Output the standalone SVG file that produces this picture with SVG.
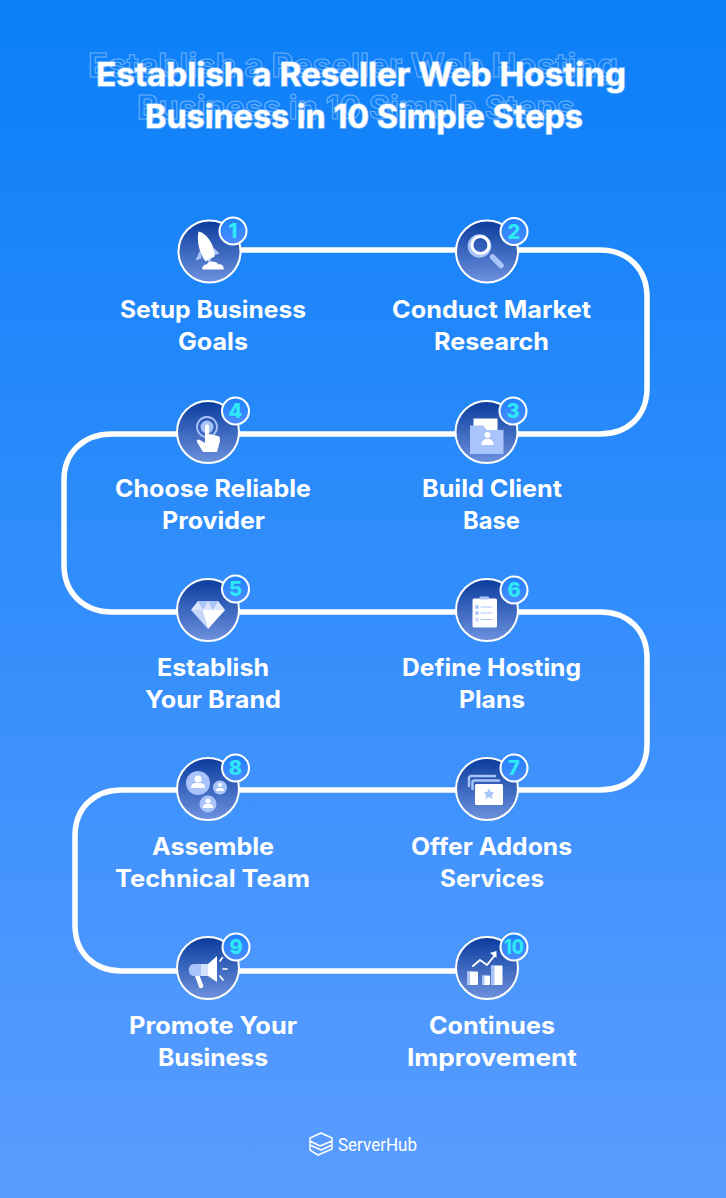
<svg xmlns="http://www.w3.org/2000/svg" width="726" height="1198" viewBox="0 0 726 1198">
<defs>
<linearGradient id="bg" x1="0" y1="0" x2="0" y2="1"><stop offset="0" stop-color="#0b7ff8"/><stop offset="1" stop-color="#5a9cff"/></linearGradient>
<linearGradient id="disc" x1="0" y1="0" x2="0" y2="1"><stop offset="0" stop-color="#0a3c9e"/><stop offset="1" stop-color="#6d92de"/></linearGradient>
<linearGradient id="chip" x1="0" y1="0" x2="0" y2="1"><stop offset="0" stop-color="#1f80fb"/><stop offset="1" stop-color="#4b8dff"/></linearGradient>
</defs>
<style>
text{font-family:"Inter","Liberation Sans",sans-serif}
.title{font-size:32px;font-weight:700;text-anchor:middle;fill:#fff;stroke:#fff;stroke-opacity:.45;stroke-width:1.6px;paint-order:stroke}
.ghost{font-size:32px;font-weight:700;text-anchor:middle;fill:none;stroke:#fff;stroke-opacity:.4;stroke-width:1px}
.label{font-size:24px;font-weight:700;text-anchor:middle;fill:#fff}
.disc{fill:url(#disc);stroke:#fff;stroke-width:2}
.chip{fill:url(#chip);stroke:#fff;stroke-width:2}
.num{font-size:20px;font-weight:800;text-anchor:middle;fill:#2ee8f6}
.w{fill:#fff}
.l{fill:#a9c3fb}
.wl{fill:none;stroke:#fff;stroke-linecap:round;stroke-linejoin:round}
.ll{fill:none;stroke:#a9c3fb;stroke-linecap:round;stroke-linejoin:round}
</style>
<rect width="726" height="1198" fill="url(#bg)"/>

<g id="title">
<text class="ghost" x="353" y="77" textLength="530" lengthAdjust="spacingAndGlyphs">Establish a Reseller Web Hosting</text>
<text class="ghost" x="356" y="119" textLength="438" lengthAdjust="spacingAndGlyphs">Business in 10 Simple Steps</text>
<text class="title" x="361" y="86" textLength="530" lengthAdjust="spacingAndGlyphs">Establish a Reseller Web Hosting</text>
<text class="title" x="364" y="128" textLength="438" lengthAdjust="spacingAndGlyphs">Business in 10 Simple Steps</text>
</g>

<g id="connectors">
<path d="M209 250H600C628 250 647 269 647 297V388C647 416 628 434 600 434H112C84 434 64 452 64 480V565C64 593 84 612 112 612H600C628 612 647 630 647 658V744C647 772 628 790 600 790H122C94 790 75 808 75 836V925C75 953 94 971 122 971H487" fill="none" stroke="#fff" stroke-width="5.500"/>
</g>

<g id="step-1" transform="translate(209.500 251.500)">
<circle class="disc" r="31"/><path class="l" d="M-9-2-14 9-8 7ZM4-4 10 2 4 4ZM-2 8 0 14 3 14 1 7Z"/>
<path class="w" d="M-11-20C-3-18 5-8 5 5L-4 10C-10 2-13-10-11-20Z"/>
<path class="w" d="M-7 18C-8 15-5 13-3 13C-1 9 7 9 9 13C12 12 15 15 14 18Z"/>
<circle class="chip" cx="23.500" cy="-20.500" r="13.500"/><text class="num" x="23.500" y="-13.500">1</text>
</g>
<text class="label" x="213" y="318" textLength="186" lengthAdjust="spacingAndGlyphs">Setup Business</text>
<text class="label" x="213" y="350" textLength="70" lengthAdjust="spacingAndGlyphs">Goals</text>

<g id="step-2" transform="translate(487 251.500)">
<circle class="disc" r="31"/><path class="ll" d="M5.500 5.500 14 14" stroke-width="5.500"/>
<circle cx="-7.500" cy="-5.500" r="10" fill="none" stroke="#a9c3fb" stroke-width="3.500"/>
<circle cx="-6.500" cy="-6.500" r="8.500" fill="none" stroke="#fff" stroke-width="3"/>
<circle class="chip" cx="27" cy="-20" r="13.500"/><text class="num" x="27" y="-13">2</text>
</g>
<text class="label" x="491.500" y="318" textLength="199" lengthAdjust="spacingAndGlyphs">Conduct Market</text>
<text class="label" x="491.500" y="350" textLength="115" lengthAdjust="spacingAndGlyphs">Research</text>

<g id="step-3" transform="translate(486.500 432)">
<circle class="disc" r="31"/><rect class="w" x="-13" y="-13.500" width="24" height="16"/>
<path class="l" d="M-16.500-6.500H-3L0-2H17V22H-16.500Z"/>
<circle class="w" cx="1" cy="3" r="3"/><path class="w" d="M-5 13C-5 8-2 7 1 7C4 7 7 8 7 13Z"/>
<circle class="chip" cx="26.500" cy="-21" r="13.500"/><text class="num" x="26.500" y="-14">3</text>
</g>
<text class="label" x="492" y="497" textLength="140" lengthAdjust="spacingAndGlyphs">Build Client</text>
<text class="label" x="491.500" y="529" textLength="57" lengthAdjust="spacingAndGlyphs">Base</text>

<g id="step-4" transform="translate(208 432)">
<circle class="disc" r="31"/><circle cx="-1" cy="-5" r="10" fill="none" stroke="#a9c3fb" stroke-width="1.800"/>
<circle class="l" cx="-1" cy="-5" r="6.500"/>
<path class="w" d="M-3-6C-3-8 1-8 1-6V2L10 4C12 5 12 6 12 9L9 20H-5L-11 10C-12 7-9 7-8 8L-3 11Z"/>
<circle class="chip" cx="27.500" cy="-21" r="13.500"/><text class="num" x="27.500" y="-14">4</text>
</g>
<text class="label" x="213" y="497" textLength="196" lengthAdjust="spacingAndGlyphs">Choose Reliable</text>
<text class="label" x="213.500" y="529" textLength="103" lengthAdjust="spacingAndGlyphs">Provider</text>

<g id="step-5" transform="translate(208 610)">
<circle class="disc" r="31"/><path class="l" d="M-10-9H10L17 0H-17Z"/><path class="w" d="M-10-9-5 0H-17ZM0-9-5 0H5ZM10-9 5 0H17Z" opacity=".6"/>
<path d="M-17 0H-6L0 19Z" fill="#c5d6fb"/><path class="w" d="M-6 0H17L0 19Z"/>
<circle class="chip" cx="27.500" cy="-21" r="13.500"/><text class="num" x="27.500" y="-14">5</text>
</g>
<text class="label" x="213" y="676" textLength="112" lengthAdjust="spacingAndGlyphs">Establish</text>
<text class="label" x="213" y="708" textLength="136" lengthAdjust="spacingAndGlyphs">Your Brand</text>

<g id="step-6" transform="translate(487 610)">
<circle class="disc" r="31"/><rect class="w" x="-14.500" y="-11.500" width="24.500" height="29" rx="1.500"/>
<rect class="l" x="-7.500" y="-13.500" width="9.500" height="3" rx="1"/>
<circle class="l" cx="-10" cy="-3" r="2"/><circle class="l" cx="-10" cy="3" r="2"/><circle cx="-10" cy="9.500" r="1.500" fill="none" stroke="#a9c3fb"/>
<path class="ll" d="M-6-3H5M-6 3H5M-6 9.500H5" stroke-width="1"/>
<circle class="chip" cx="27" cy="-20" r="13.500"/><text class="num" x="27" y="-13">6</text>
</g>
<text class="label" x="491.500" y="676" textLength="179" lengthAdjust="spacingAndGlyphs">Define Hosting</text>
<text class="label" x="492" y="708" textLength="66" lengthAdjust="spacingAndGlyphs">Plans</text>

<g id="step-7" transform="translate(487 789)">
<circle class="disc" r="31"/><path class="ll" d="M-18-3V-11C-18-12-17-13-16-13H8" stroke-width="2.500"/>
<path class="ll" d="M-14.500 0V-7C-14.500-8-14-8.500-13-8.500H12" stroke-width="2.500"/>
<rect class="w" x="-12" y="-5" width="28" height="21" rx="1.500"/>
<path class="l" d="M2-.5 3.800 3 7.500 3.500 4.800 6 5.500 10 2 8 -1.500 10 -.8 6 -3.500 3.500 .2 3Z"/>
<circle class="chip" cx="27" cy="-21" r="13.500"/><text class="num" x="27" y="-14">7</text>
</g>
<text class="label" x="491.500" y="855" textLength="161" lengthAdjust="spacingAndGlyphs">Offer Addons</text>
<text class="label" x="492" y="887" textLength="104" lengthAdjust="spacingAndGlyphs">Services</text>

<g id="step-8" transform="translate(208 789)">
<circle class="disc" r="31"/><circle class="l" cx="-10" cy="-6" r="12"/><circle class="w" cx="-10" cy="-10" r="3.500"/><path class="w" d="M-17-1C-17-6-13-6-10-6C-7-6-3-6-3-1Z"/>
<circle class="l" cx="12" cy="-1.500" r="7"/><circle class="w" cx="12" cy="-4" r="2"/><path class="w" d="M8 2C8-1 10-1 12-1C14-1 16-1 16 2Z"/>
<circle class="l" cx="0" cy="15" r="8.500"/><circle class="w" cx="0" cy="12" r="2.500"/><path class="w" d="M-5 19C-5 15-3 15 0 15C3 15 5 15 5 19Z"/>
<circle class="chip" cx="27.500" cy="-21" r="13.500"/><text class="num" x="27.500" y="-14">8</text>
</g>
<text class="label" x="213" y="855" textLength="122" lengthAdjust="spacingAndGlyphs">Assemble</text>
<text class="label" x="212.500" y="887" textLength="195" lengthAdjust="spacingAndGlyphs">Technical Team</text>

<g id="step-9" transform="translate(208 968)">
<circle class="disc" r="31"/><path class="wl" d="M-11 7-7 18" stroke-width="4.500"/>
<path class="l" d="M-14-4H-7V8H-14C-21 8-21-4-14-4Z"/><path d="M-7-4H0V8H-7Z" fill="#d5e2fd"/><path class="w" d="M0-4 9-12V14L0 8Z"/>
<path class="wl" d="M12-7 14.500-10.500M15 1H19M12 8 15 12" stroke-width="1.600"/>
<circle class="chip" cx="28" cy="-21" r="13.500"/><text class="num" x="28" y="-14">9</text>
</g>
<text class="label" x="213" y="1034" textLength="168" lengthAdjust="spacingAndGlyphs">Promote Your</text>
<text class="label" x="213" y="1066" textLength="110" lengthAdjust="spacingAndGlyphs">Business</text>

<g id="step-10" transform="translate(487 968)">
<circle class="disc" r="31"/><rect class="w" x="-20" y="3.500" width="11" height="13.500" rx="1"/><rect class="l" x="-20" y="3.500" width="3" height="13.500" rx="1"/>
<rect class="w" x="-5" y="7.500" width="8" height="9.500" rx="1"/><rect class="l" x="-5" y="7.500" width="2.500" height="9.500" rx="1"/>
<rect class="w" x="4" y="-2.500" width="11.500" height="19.500" rx="1"/><rect class="l" x="4" y="-2.500" width="3.500" height="19.500" rx="1"/>
<path class="wl" d="M-14-2-7-8 0-3 8-13" stroke-width="2"/><path class="w" d="M3-15 9.500-17 9.500-10Z"/>
<circle class="chip" cx="27" cy="-21" r="13.500"/><text class="num" x="27" y="-14" textLength="20" lengthAdjust="spacingAndGlyphs">10</text>
</g>
<text class="label" x="492" y="1034" textLength="126" lengthAdjust="spacingAndGlyphs">Continues</text>
<text class="label" x="492" y="1066" textLength="170" lengthAdjust="spacingAndGlyphs">Improvement</text>

<g id="brand">
<path class="wl" stroke-width="1.500" d="M321 1133 332 1138V1141L320 1146 310 1141V1138L321 1133M310 1141V1145L321 1150 332 1145V1141M310 1145V1150L318 1155 332 1149V1145"/>
<text x="338" y="1151" font-size="17.500" fill="#fff" textLength="79" lengthAdjust="spacingAndGlyphs" style="font-family:Roboto,'Liberation Sans',sans-serif">ServerHub</text>
</g>
</svg>
